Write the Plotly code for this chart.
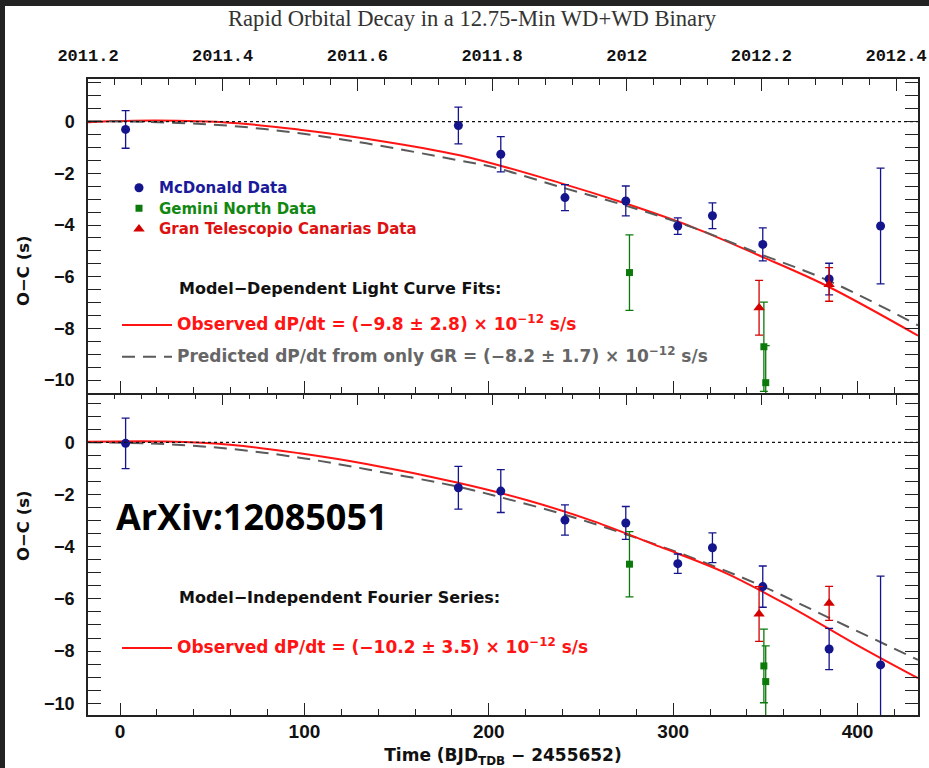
import plotly.graph_objects as go

# ---------------- data ----------------
# Times in days since BJD_TDB 2455652, O-C in seconds
days_mcd = [3.0, 183.5, 206.5, 241.3, 274.3, 302.5, 321.3, 348.6, 384.6, 412.5]
oc_mcd_lc = [-0.30, -0.15, -1.26, -2.94, -3.07, -4.04, -3.64, -4.75, -6.09, -4.04]
err_mcd_lc = [0.73, 0.71, 0.68, 0.50, 0.58, 0.32, 0.50, 0.64, 0.61, 2.24]
oc_mcd_fs = [-0.04, -1.74, -1.87, -2.98, -3.09, -4.65, -4.04, -5.53, -7.92, -8.53]
err_mcd_fs = [0.97, 0.82, 0.82, 0.58, 0.63, 0.37, 0.57, 0.79, 0.79, 3.40]

days_gem = [276.3, 349.2, 350.2]
oc_gem_lc = [-5.84, -8.71, -10.10]
err_gem_lc = [1.46, 1.73, 1.43]
oc_gem_fs = [-4.67, -8.57, -9.17]
err_gem_fs = [1.25, 1.41, 1.37]

days_gtc = [346.6, 384.6]
oc_gtc_lc = [-7.20, -6.30]
err_gtc_lc = [1.06, 0.65]
oc_gtc_fs = [-6.58, -6.17]
err_gtc_fs = [1.05, 0.65]

# model curves (light-curve fits, upper panel)
fit_lc_days = [-17.4, 19.6, 61.2, 97.4, 133.6, 184.2, 238.5, 274.7, 310.8, 347.0, 383.2, 432.8]
fit_lc_obs = [-0.02, 0.04, -0.05, -0.31, -0.66, -1.30, -2.37, -3.18, -4.09, -5.19, -6.35, -8.28]
gr_lc_days = [-17.4, 24.6, 61.2, 97.4, 133.6, 182.4, 202.3, 238.5, 274.7, 310.8, 347.0, 383.2, 432.8]
gr_lc = [0.02, -0.03, -0.17, -0.45, -0.84, -1.48, -1.76, -2.52, -3.26, -4.10, -5.12, -6.12, -7.88]

# model curves (Fourier-series fits, lower panel)
fit_fs_days = [-17.4, 24.6, 61.2, 97.4, 133.6, 183.3, 220.4, 256.6, 292.7, 328.9, 365.1, 401.2, 432.8]
fit_fs_obs = [0.02, 0.03, -0.10, -0.42, -0.83, -1.55, -2.21, -3.02, -4.00, -5.02, -6.36, -7.83, -9.04]
gr_fs_days = [-17.4, 24.6, 61.2, 97.4, 133.6, 183.3, 202.3, 238.5, 274.7, 310.8, 347.0, 383.2, 432.8]
gr_fs = [0.0, -0.07, -0.26, -0.59, -1.03, -1.70, -2.03, -2.72, -3.53, -4.44, -5.47, -6.68, -8.34]

# calendar-year scale along the top
year_ticks_vals = [2011.2, 2011.4, 2011.6, 2011.8, 2012.0, 2012.2, 2012.4]
year_ticks_text = ["2011.2", "2011.4", "2011.6", "2011.8", "2012", "2012.2", "2012.4"]

day_range = [-17.4, 432.8]
year_range = [2011.2, 2012.4326]
y_range_lc = [-10.5, 1.65]
y_range_fs = [-10.45, 1.89]

# ---------------- style ----------------
W, H = 929, 768
BLUE = "#14148c"
GREEN = "#0b7a0b"
RED_PT = "#d40000"
RED_LN = "#ff1414"
GREY = "#5a5a5a"
FRAME = "#222222"
SANS = "DejaVu Sans"
TICKF = "Liberation Sans"


def px(x):
    return x / W


def py(y):
    return 1 - y / H


def leg_label(text, color, size):
    return f"<b><span style='color:{color};font-size:{size}px'>{text}</span></b>"


fig = go.Figure()


def data_trace(xs, ys, errs, color, symbol, size, xa, ya, name=None, show=False):
    return go.Scatter(
        x=xs, y=ys, mode="markers", xaxis=xa, yaxis=ya,
        marker=dict(color=color, symbol=symbol, size=size, line=dict(width=0)),
        error_y=dict(type="data", array=errs, color=color, thickness=1.3, width=4),
        name=name, showlegend=show, legend="legend", hoverinfo="skip",
    )


# upper panel: light-curve fits
fig.add_trace(go.Scatter(x=fit_lc_days, y=fit_lc_obs, mode="lines", xaxis="x2", yaxis="y2",
                         line=dict(color=RED_LN, width=2, shape="spline"),
                         name=leg_label("Observed dP/dt = (−9.8 ± 2.8) × 10<sup>−12</sup> s/s", "#ff1414", 17),
                         legend="legend2", legendgroup="obs", hoverinfo="skip"))
fig.add_trace(go.Scatter(x=gr_lc_days, y=gr_lc, mode="lines", xaxis="x2", yaxis="y2",
                         line=dict(color=GREY, width=2, dash="13px,8px", shape="spline"),
                         name=leg_label("Predicted dP/dt from only GR = (−8.2 ± 1.7) × 10<sup>−12</sup> s/s", "#666666", 17),
                         legend="legend2", legendgroup="gr", hoverinfo="skip"))
fig.add_trace(data_trace(days_mcd, oc_mcd_lc, err_mcd_lc, BLUE, "circle", 9, "x2", "y2",
                         leg_label("McDonald Data", "#1a1a9a", 15), True))
fig.add_trace(data_trace(days_gem, oc_gem_lc, err_gem_lc, GREEN, "square", 7, "x2", "y2",
                         leg_label("Gemini North Data", "#118811", 15), True))
fig.add_trace(data_trace(days_gtc, oc_gtc_lc, err_gtc_lc, RED_PT, "triangle-up", 10, "x2", "y2",
                         leg_label("Gran Telescopio Canarias Data", "#dd1111", 15), True))

# lower panel: Fourier-series fits
fig.add_trace(go.Scatter(x=gr_fs_days, y=gr_fs, mode="lines", xaxis="x", yaxis="y",
                         line=dict(color=GREY, width=2, dash="13px,8px", shape="spline"),
                         showlegend=False, hoverinfo="skip"))
fig.add_trace(go.Scatter(x=fit_fs_days, y=fit_fs_obs, mode="lines", xaxis="x", yaxis="y",
                         line=dict(color=RED_LN, width=2, shape="spline"),
                         name=leg_label("Observed dP/dt = (−10.2 ± 3.5) × 10<sup>−12</sup> s/s", "#ff1414", 17),
                         legend="legend3", hoverinfo="skip"))
fig.add_trace(data_trace(days_mcd, oc_mcd_fs, err_mcd_fs, BLUE, "circle", 9, "x", "y"))
fig.add_trace(data_trace(days_gem, oc_gem_fs, err_gem_fs, GREEN, "square", 7, "x", "y"))
fig.add_trace(data_trace(days_gtc, oc_gtc_fs, err_gtc_fs, RED_PT, "triangle-up", 10, "x", "y"))

# calendar-year axes need a trace to be drawn
for xa, ya in (("x3", "y2"), ("x4", "y")):
    fig.add_trace(go.Scatter(x=[2011.6], y=[0], xaxis=xa, yaxis=ya, mode="markers",
                             marker=dict(opacity=0), showlegend=False, hoverinfo="skip"))

dom_x = [px(88), px(918)]
dom_lc = [py(393), py(79)]
dom_fs = [py(715), py(393)]

common = dict(showline=True, linecolor=FRAME, linewidth=1.5, showgrid=False, zeroline=False,
              ticks="inside", tickcolor=FRAME, tickwidth=1.3, automargin=False)

day_ticks = dict(range=day_range, dtick=100, tick0=0, ticklen=12,
                 minor=dict(ticks="inside", dtick=20, ticklen=6, tickcolor=FRAME, tickwidth=1.3, showgrid=False))
year_ticks = dict(range=year_range, tickmode="array", tickvals=year_ticks_vals, ticktext=year_ticks_text,
                  ticklen=12,
                  minor=dict(ticks="inside", tickmode="linear", tick0=2011.2, dtick=0.04, ticklen=6,
                             tickcolor=FRAME, tickwidth=1.3, showgrid=False))
oc_ticks = dict(dtick=2, tick0=0, ticklen=13, mirror="allticks",
                tickfont=dict(family=TICKF, size=18, color="#111", weight="bold"),
                ticklabelstandoff=8,
                minor=dict(ticks="inside", dtick=0.5, ticklen=7, tickcolor=FRAME, tickwidth=1.3, showgrid=False))

fig.update_layout(
    width=W, height=H, autosize=False,
    margin=dict(l=0, r=0, t=0, b=0, autoexpand=False),
    paper_bgcolor="#232323", plot_bgcolor="white",
    xaxis=dict(domain=dom_x, anchor="y", side="bottom", **common, **day_ticks,
               tickfont=dict(family=TICKF, size=19, color="#111", weight="bold"),
               ticklabelstandoff=-2,
               title=dict(text="<b>Time (BJD<sub>TDB</sub> − 2455652)</b>",
                          font=dict(family=SANS, size=17, color="#111"), standoff=13)),
    yaxis=dict(domain=dom_fs, anchor="x", range=y_range_fs, **common, **oc_ticks),
    xaxis2=dict(domain=dom_x, anchor="y2", side="bottom", showticklabels=False, **common, **day_ticks),
    yaxis2=dict(domain=dom_lc, anchor="x2", range=y_range_lc, **common, **oc_ticks),
    xaxis3=dict(overlaying="x2", anchor="y2", side="top", **common, **year_ticks,
                tickfont=dict(family="Liberation Mono", size=17, color="#111", weight="bold"),
                ticklabelstandoff=9),
    xaxis4=dict(overlaying="x", anchor="y", side="top", showticklabels=False, **common, **year_ticks),
    title=dict(text="Rapid Orbital Decay in a 12.75-Min WD+WD Binary",
               x=px(472), y=py(18), xanchor="center", yanchor="middle",
               font=dict(family="Liberation Serif", size=22.6, color="#333")),
    legend=dict(x=px(119), y=py(172.5), xanchor="left", yanchor="top", bgcolor="rgba(0,0,0,0)",
                font=dict(family=SANS, size=13.5), itemwidth=30, tracegroupgap=0),
    legend2=dict(x=px(117), y=py(310), xanchor="left", yanchor="top", bgcolor="rgba(0,0,0,0)",
                 font=dict(family=SANS, size=13), itemwidth=50, tracegroupgap=12),
    legend3=dict(x=px(117), y=py(633), xanchor="left", yanchor="top", bgcolor="rgba(0,0,0,0)",
                 font=dict(family=SANS, size=13), itemwidth=50),
    showlegend=True,
)
# the shared panel border is drawn once, by the upper panel's bottom axis
fig.update_layout(xaxis4_showline=False)

# white page behind the two panels
fig.add_shape(type="rect", xref="paper", yref="paper", x0=px(5), x1=1, y0=0, y1=py(6),
              fillcolor="white", line=dict(width=0), layer="below")

# O-C = 0 reference lines
for ya, xa in (("y2", "x2"), ("y", "x")):
    fig.add_shape(type="line", xref=f"{xa} domain", yref=ya, x0=0, x1=1, y0=0, y1=0,
                  line=dict(color="#111", width=1.3, dash="dot"))

# panel headings and axis labels
fig.add_annotation(x=px(177), y=py(288), xref="paper", yref="paper", xanchor="left",
                   text="<b>Model−Dependent Light Curve Fits:</b>", showarrow=False,
                   font=dict(family=SANS, size=16, color="#111"))
fig.add_annotation(x=px(177), y=py(609), xref="paper", yref="paper", xanchor="left",
                   text="<b>Model−Independent Fourier Series:</b>", showarrow=False,
                   font=dict(family=SANS, size=16, color="#111"))
for yc in (233, 563):
    fig.add_annotation(x=px(12), y=py(yc), xref="paper", yref="paper", textangle=-90,
                       text="<b>O−C (s)</b>", showarrow=False,
                       font=dict(family=SANS, size=16.5, color="#111"))
fig.add_annotation(x=px(114), y=py(543), xref="paper", yref="paper", xanchor="left",
                   text="<b>ArXiv:12085051</b>", showarrow=False,
                   font=dict(family="Open Sans", size=36, color="#000"))

fig.write_html("out.html")
